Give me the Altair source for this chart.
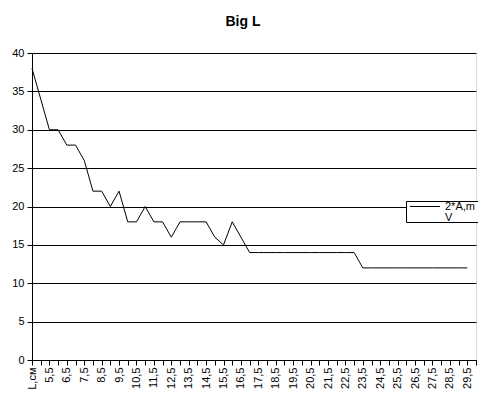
import altair as alt
import pandas as pd

categories = ["L,см"] + [
    (str(int(v)) if v == int(v) else str(v).replace(".", ",")) for v in [5 + 0.5 * i for i in range(51)]
]
# categories: L,см, 5, 5,5, 6, ..., 29,5, 30
values = [38, 34, 30, 30, 28, 28, 26, 22, 22, 20,
          22, 18, 18, 20, 18, 18, 16, 18, 18, 18,
          18, 16, 15, 18, 16, 14, 14, 14, 14, 14,
          14, 14, 14, 14, 14, 14, 14, 14, 12, 12,
          12, 12, 12, 12, 12, 12, 12, 12, 12, 12,
          12]
series_name = "2*A,mV"
legend_lines = ["2*A,m", "V"]
y_ticks = [0, 5, 10, 15, 20, 25, 30, 35, 40]

df = pd.DataFrame({
    "L": categories[:len(values)],
    "v": values,
    "s": [series_name] * len(values),
})
leg_df = pd.DataFrame({"s": [series_name]})

font = "Liberation Sans"

line = alt.Chart(df).mark_line(strokeWidth=1, interpolate="linear", color="black").encode(
    x=alt.X("L:N", sort=categories,
            scale=alt.Scale(type="point", domain=categories, padding=0),
            axis=alt.Axis(title=None, labelAngle=-90, labelAlign="right", labelBaseline="middle",
                          labelExpr="indexof(datum.label, ',') >= 0 ? datum.label : ''",
                          labelFont=font, labelFontSize=11, labelColor="black",
                          domainColor="black", tickColor="black", tickSize=5,
                          labelPadding=2, grid=False, labelOverlap=False)),
    y=alt.Y("v:Q", scale=alt.Scale(domain=[0, 40], nice=False),
            axis=alt.Axis(title=None, values=y_ticks, grid=True, gridColor="black",
                          gridOpacity=1, gridWidth=1,
                          labelFont=font, labelFontSize=11, labelColor="black",
                          domainColor="black", tickColor="black", tickSize=5,
                          labelPadding=3)),
    detail="s:N",
)

# legend (drawn as a boxed key)
leg_box = alt.Chart(leg_df).mark_rect(fill="white", stroke="black", strokeWidth=1).encode(
    x=alt.value(374.5), x2=alt.value(448.5), y=alt.value(148.5), y2=alt.value(169.5))
leg_sym = alt.Chart(leg_df).mark_rule(color="black", strokeWidth=1).encode(
    x=alt.value(378), x2=alt.value(408), y=alt.value(153.5))
leg_txt = alt.Chart(leg_df).mark_text(font=font, fontSize=11, color="black", align="left",
                                      baseline="alphabetic", lineHeight=11).encode(
    x=alt.value(413), y=alt.value(156.5), text=alt.value(legend_lines))

chart = alt.layer(line, leg_box, leg_sym, leg_txt).properties(
    width=444, height=307,
    title=alt.Title("Big L", font=font, fontSize=14, fontWeight="bold", color="black",
                    anchor="middle", dx=-11, offset=18),
    autosize=alt.AutoSizeParams(type="none"),
    padding={"left": 24, "top": 45, "right": 2, "bottom": 40},
).configure_view(stroke="#808080", strokeWidth=1).configure(background="white")

chart.save("out.html", embed_options={"renderer": "svg", "actions": False})
